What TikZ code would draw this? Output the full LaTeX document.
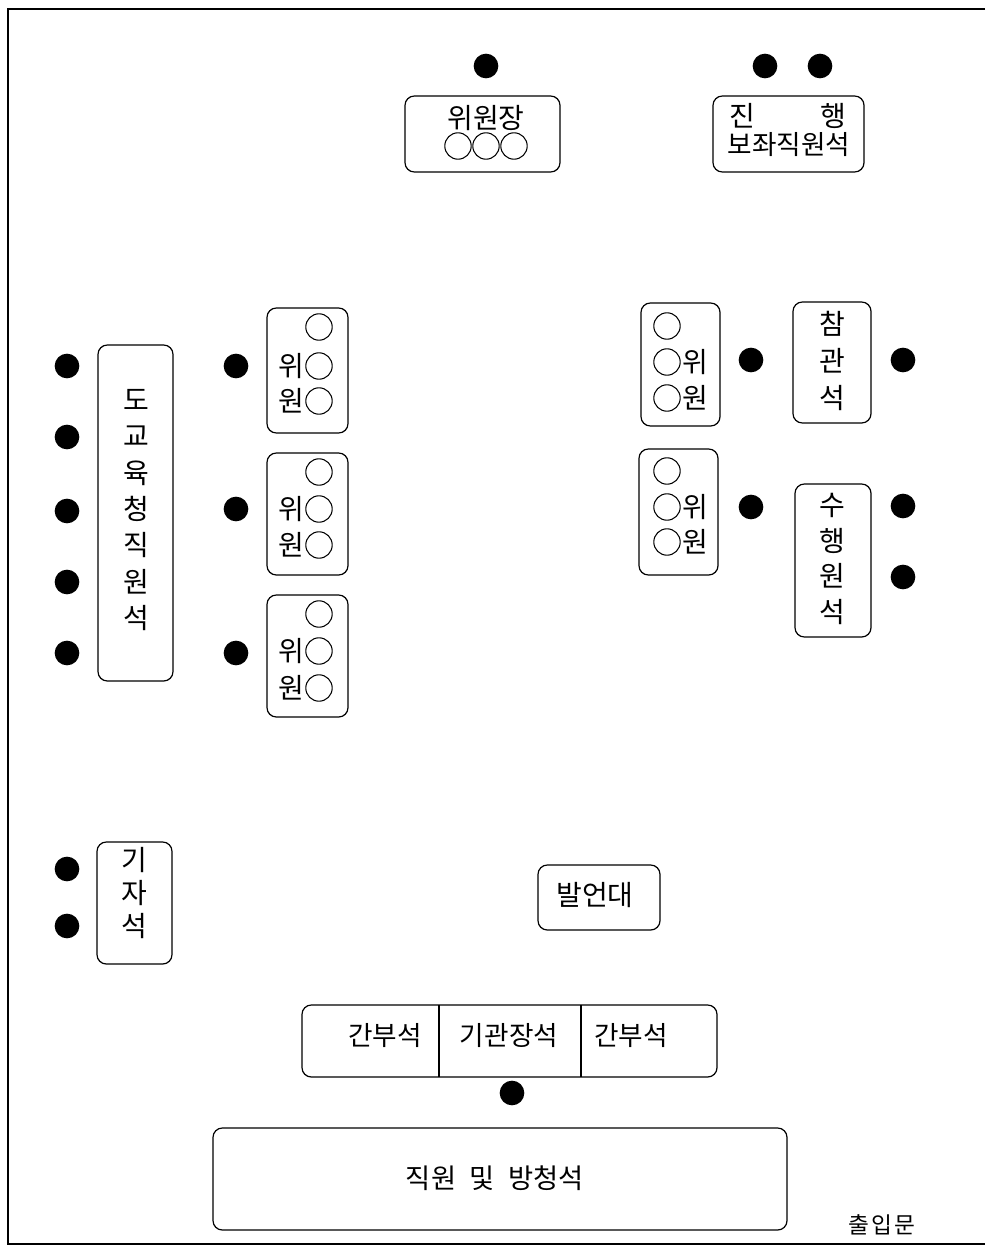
\documentclass[tikz,border=0pt]{standalone}
\usepackage{fontspec}
\setmainfont{Noto Sans CJK KR}
\usetikzlibrary{fit}
\begin{document}
\begin{tikzpicture}[x=0.75pt,y=-0.75pt,
  box/.style={draw, rounded corners=7pt, line width=0.9pt, inner sep=0pt},
  seat/.style={circle, fill=black, minimum size=18.5pt, inner sep=0pt},
  chair/.style={circle, draw, line width=0.8pt, minimum size=19.8pt, inner sep=0pt},
  lbl/.style={inner sep=0pt, align=center, font=\fontsize{21}{27}\selectfont},
  vlbl/.style={inner sep=0pt, align=center},
  frameline/.style={line width=1pt}]
\useasboundingbox (0,0) rectangle (985,1256);
% frame
\draw[frameline] (985,9) -- (8,9) -- (8,1244) -- (985,1244);

% ---- chairman
\node[seat] (d1) at (486,66) {};
\node[box, fit={(405,96) (560,172)}] (chair) {};
\node[lbl] (chairT) at (486,118) {위원장};
\node[chair] (c1) at (458,146) {};
\node[chair] (c2) at (486,146) {};
\node[chair] (c3) at (514,146) {};

% ---- assistant staff
\node[seat] (d2) at (765,66) {};
\node[seat] (d3) at (820,66) {};
\node[box, fit={(713,96) (864,172)}] (assist) {};
\node[lbl] (jin) at (742,116) {진};
\node[lbl] (haeng) at (833,116) {행};
\node[lbl, font=\fontsize{20}{24}\selectfont] (assistT) at (789,145) {보좌직원석};

% ---- education office staff
\node[box, fit={(98,345) (173,681)}] (edu) {};
\node[vlbl, font=\fontsize{21}{27.2}\selectfont] (eduT) at (136,510) {도\\교\\육\\청\\직\\원\\석};
\foreach \y [count=\i] in {366,437,511,582,653}
  \node[seat] (de\i) at (67,\y) {};

% ---- left committee boxes
\node[box, fit={(267,308) (348,433)}] (L1) {};
\node[box, fit={(267,453) (348,575)}] (L2) {};
\node[box, fit={(267,595) (348,717)}] (L3) {};
\foreach \b/\ya/\yb/\yc in {1/327/366/401, 2/472/509/545, 3/614/651/688}{
  \node[chair] (Lc\b a) at (319,\ya) {};
  \node[chair] (Lc\b b) at (319,\yb) {};
  \node[chair] (Lc\b c) at (319,\yc) {};
  \node[lbl] (Lw\b) at (291,\yb) {위};
  \node[lbl] (Lo\b) at (291,\yc) {원};
}
\node[seat] (dl1) at (236,366) {};
\node[seat] (dl2) at (236,509) {};
\node[seat] (dl3) at (236,653) {};

% ---- right committee boxes
\node[box, fit={(641,303) (720,426)}] (R1) {};
\node[box, fit={(639,449) (718,575)}] (R2) {};
\foreach \b/\ya/\yb/\yc in {1/326/362/398, 2/471/507/542}{
  \node[chair] (Rc\b a) at (667,\ya) {};
  \node[chair] (Rc\b b) at (667,\yb) {};
  \node[chair] (Rc\b c) at (667,\yc) {};
  \node[lbl] (Rw\b) at (695,\yb) {위};
  \node[lbl] (Ro\b) at (695,\yc) {원};
}
\node[seat] (dr1) at (751,360) {};
\node[seat] (dr2) at (751,507) {};

% ---- observers
\node[box, fit={(793,302) (871,423)}] (obs) {};
\node[vlbl, font=\fontsize{21}{27.5}\selectfont] (obsT) at (832,361) {참\\관\\석};
\node[seat] (do1) at (903,360) {};

% ---- attendants
\node[box, fit={(795,484) (871,637)}] (att) {};
\node[vlbl, font=\fontsize{21}{26.8}\selectfont] (attT) at (832,559) {수\\행\\원\\석};
\node[seat] (da1) at (903,506) {};
\node[seat] (da2) at (903,577) {};

% ---- press
\node[box, fit={(97,842) (172,964)}] (press) {};
\node[vlbl, font=\fontsize{21}{25}\selectfont] (pressT) at (134,893) {기\\자\\석};
\node[seat] (dp1) at (67,869) {};
\node[seat] (dp2) at (67,926) {};

% ---- podium
\node[box, fit={(538,865) (660,930)}] (pod) {};
\node[lbl] (podT) at (595,895) {발언대};

% ---- officials row
\node[box, fit={(302,1005) (717,1077)}] (row) {};
\coordinate (v1t) at (439,1005);
\coordinate (v1b) at (439,1077);
\coordinate (v2t) at (581,1005);
\coordinate (v2b) at (581,1077);
\draw[line width=0.9pt] (v1t) -- (v1b);
\draw[line width=0.9pt] (v2t) -- (v2b);
\node[lbl, font=\fontsize{20}{24}\selectfont] (ganbu1) at (385,1036) {간부석};
\node[lbl, font=\fontsize{20}{24}\selectfont] (head) at (509,1036) {기관장석};
\node[lbl, font=\fontsize{20}{24}\selectfont] (ganbu2) at (631,1036) {간부석};
\node[seat] (dh) at (512,1093) {};

% ---- staff & audience
\node[box, fit={(213,1128) (787,1230)}] (aud) {};
\node[lbl, font=\fontsize{20.5}{24}\selectfont] (audT) at (495,1178) {직원\hspace{0.5em}및\hspace{0.5em}방청석};

% ---- entrance
\node[lbl, font=\fontsize{17}{24}\selectfont] (door) at (882,1225) {출\hspace{0.1em}입\hspace{0.1em}문};
\end{tikzpicture}
\end{document}
